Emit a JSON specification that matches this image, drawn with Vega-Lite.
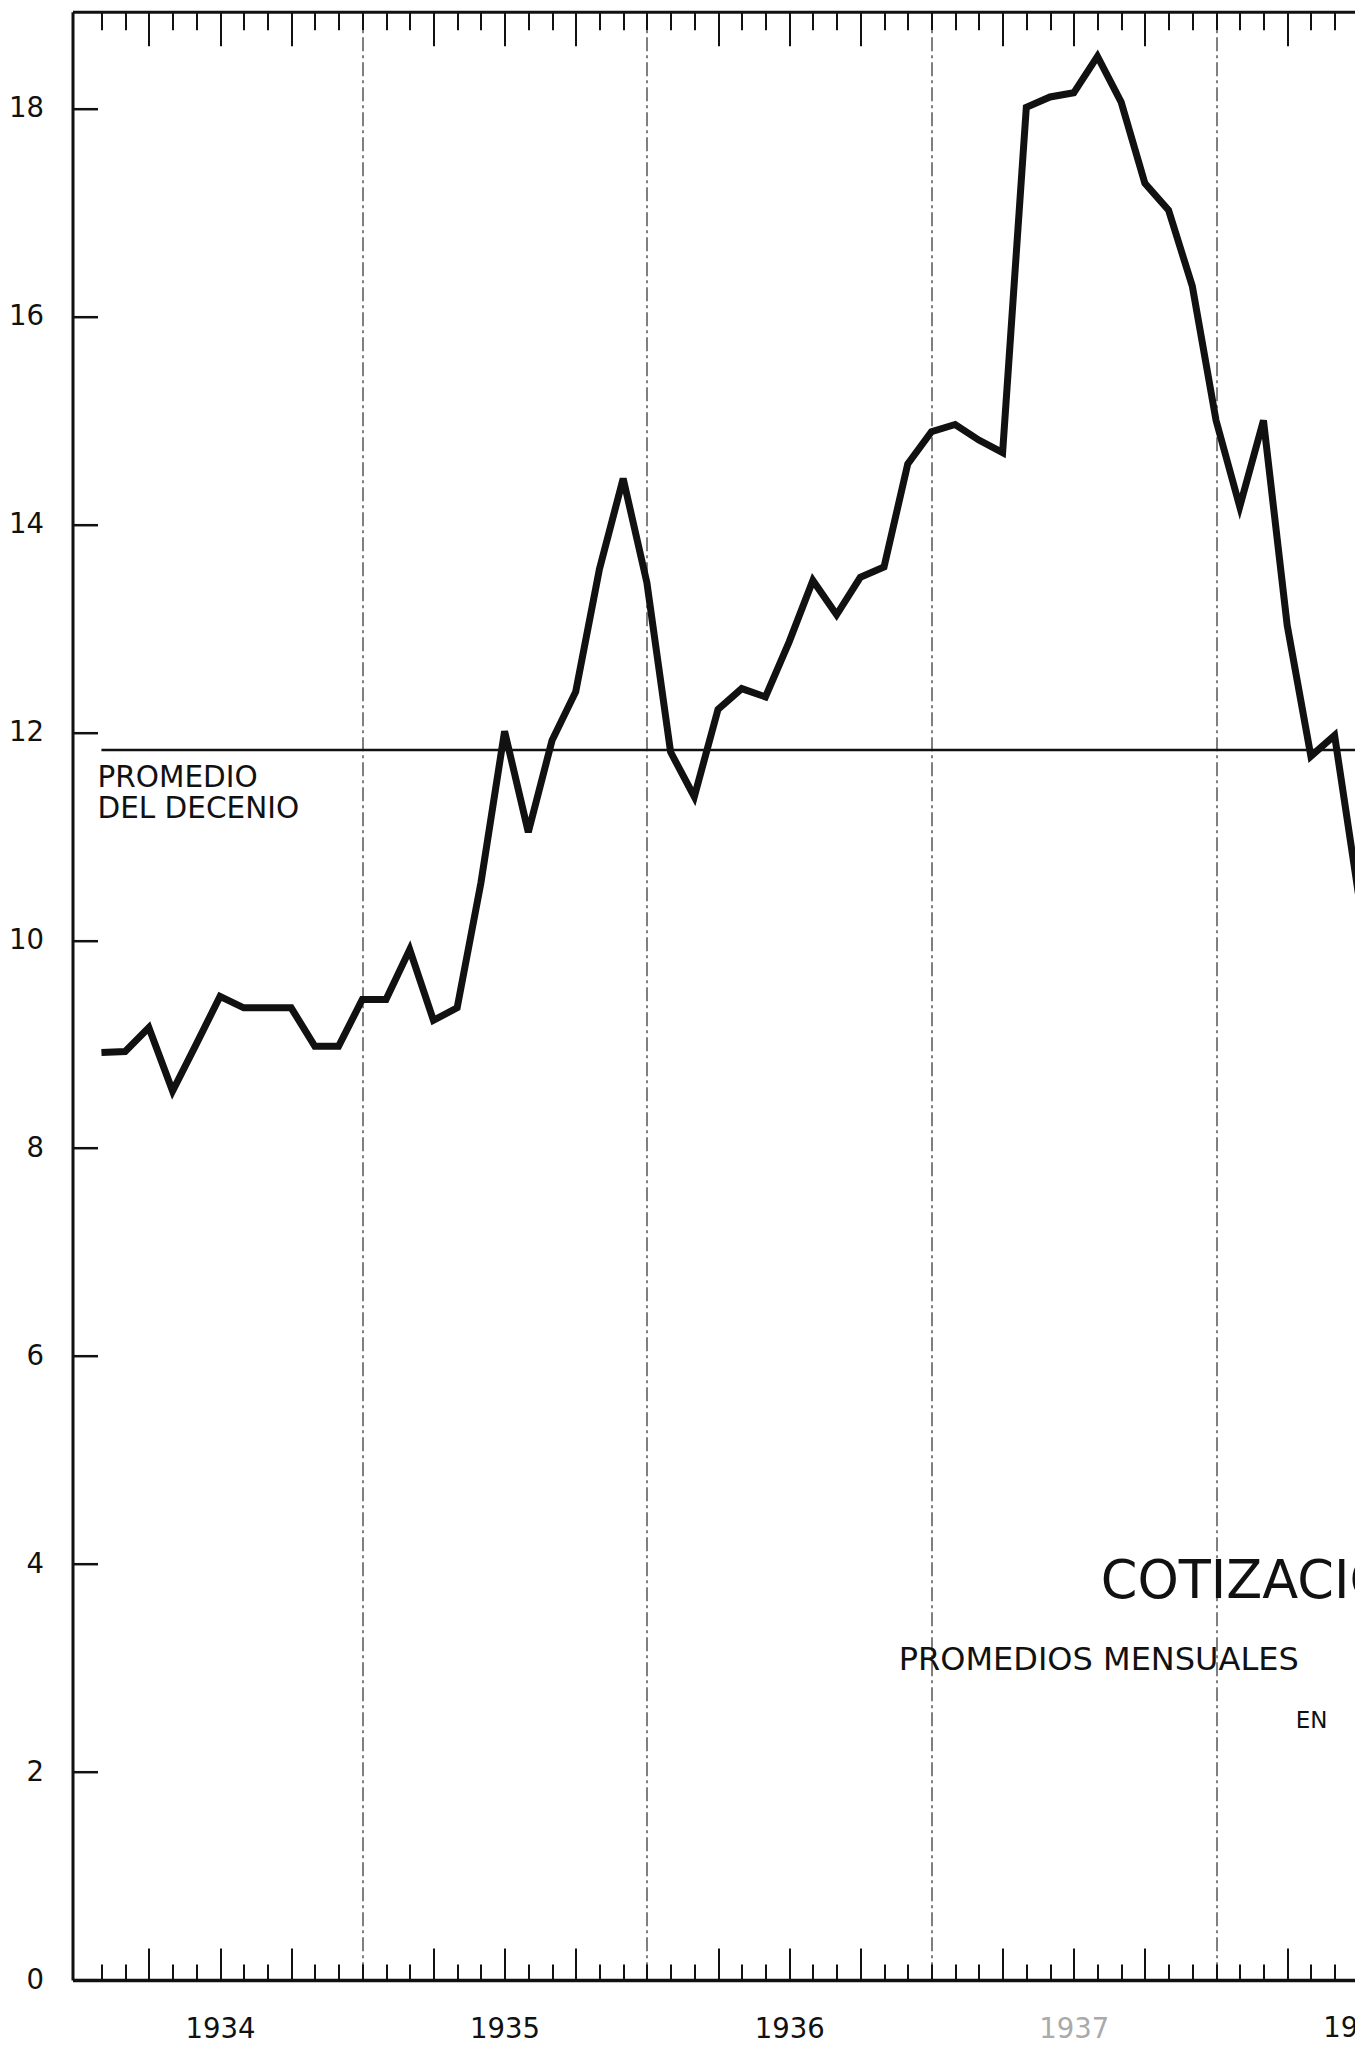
{
  "$schema": "https://vega.github.io/schema/vega-lite/v6.json",
  "width": 1282.5,
  "height": 1968.3,
  "autosize": {"type": "none"},
  "padding": {"left": 72.5, "top": 11.7, "right": 0, "bottom": 65},
  "background": "white",
  "config": {
    "view": {"stroke": null},
    "font": "DejaVu Sans",
    "axis": {"title": null, "grid": false, "labelFlush": false, "labelOverlap": false}
  },
  "datasets": {
    "serie": [
      {"mes": 1, "cotizacion": 8.92}, {"mes": 2, "cotizacion": 8.93}, {"mes": 3, "cotizacion": 9.16},
      {"mes": 4, "cotizacion": 8.55}, {"mes": 5, "cotizacion": 9.0}, {"mes": 6, "cotizacion": 9.46},
      {"mes": 7, "cotizacion": 9.35}, {"mes": 8, "cotizacion": 9.35}, {"mes": 9, "cotizacion": 9.35},
      {"mes": 10, "cotizacion": 8.98}, {"mes": 11, "cotizacion": 8.98}, {"mes": 12, "cotizacion": 9.43},
      {"mes": 13, "cotizacion": 9.43}, {"mes": 14, "cotizacion": 9.91}, {"mes": 15, "cotizacion": 9.23},
      {"mes": 16, "cotizacion": 9.35}, {"mes": 17, "cotizacion": 10.55}, {"mes": 18, "cotizacion": 12.01},
      {"mes": 19, "cotizacion": 11.04}, {"mes": 20, "cotizacion": 11.92}, {"mes": 21, "cotizacion": 12.39},
      {"mes": 22, "cotizacion": 13.57}, {"mes": 23, "cotizacion": 14.44}, {"mes": 24, "cotizacion": 13.44},
      {"mes": 25, "cotizacion": 11.81}, {"mes": 26, "cotizacion": 11.38}, {"mes": 27, "cotizacion": 12.22},
      {"mes": 28, "cotizacion": 12.42}, {"mes": 29, "cotizacion": 12.34}, {"mes": 30, "cotizacion": 12.87},
      {"mes": 31, "cotizacion": 13.46}, {"mes": 32, "cotizacion": 13.13}, {"mes": 33, "cotizacion": 13.49},
      {"mes": 34, "cotizacion": 13.59}, {"mes": 35, "cotizacion": 14.58}, {"mes": 36, "cotizacion": 14.89},
      {"mes": 37, "cotizacion": 14.96}, {"mes": 38, "cotizacion": 14.81}, {"mes": 39, "cotizacion": 14.69},
      {"mes": 40, "cotizacion": 18.01}, {"mes": 41, "cotizacion": 18.11}, {"mes": 42, "cotizacion": 18.15},
      {"mes": 43, "cotizacion": 18.5}, {"mes": 44, "cotizacion": 18.06}, {"mes": 45, "cotizacion": 17.28},
      {"mes": 46, "cotizacion": 17.02}, {"mes": 47, "cotizacion": 16.29}, {"mes": 48, "cotizacion": 15.0},
      {"mes": 49, "cotizacion": 14.17}, {"mes": 50, "cotizacion": 15.0}, {"mes": 51, "cotizacion": 13.03},
      {"mes": 52, "cotizacion": 11.77}, {"mes": 53, "cotizacion": 11.97}, {"mes": 54, "cotizacion": 10.45}
    ],
    "promedio": [
      {"nombre": "PROMEDIO DEL DECENIO", "valor": 11.83, "desde": 1, "hasta": 120}
    ]
  },
  "resolve": {"axis": {"x": "independent", "y": "independent"}},
  "layer": [
    {
      "data": {"name": "serie"},
      "mark": {"type": "line", "color": "#111111", "strokeWidth": 7, "clip": true, "strokeJoin": "miter"},
      "encoding": {
        "x": {
          "field": "mes", "type": "quantitative",
          "scale": {"domain": [-0.22, 53.86], "nice": false, "zero": false},
          "axis": {
            "orient": "bottom",
            "values": [1,2,3,4,5,6,7,8,9,10,11,12,13,14,15,16,17,18,19,20,21,22,23,24,25,26,27,28,29,30,31,32,33,34,35,36,37,38,39,40,41,42,43,44,45,46,47,48,49,50,51,52,53],
            "tickSize": {"condition": {"test": "datum.value % 3 === 0 && datum.value % 12 !== 0", "value": -32}, "value": -16},
            "tickWidth": 2, "tickColor": "#111111",
            "labels": false,
            "domain": true, "domainColor": "#111111", "domainWidth": 3.5,
            "grid": true, "gridColor": "#555555", "gridWidth": 1.5, "gridDash": [14, 4, 3, 4],
            "gridOpacity": {"condition": {"test": "datum.value % 12 === 0", "value": 1}, "value": 0}
          }
        },
        "y": {
          "field": "cotizacion", "type": "quantitative",
          "scale": {"domain": [0, 18.93], "nice": false, "zero": true},
          "axis": {
            "orient": "left",
            "values": [0, 2, 4, 6, 8, 10, 12, 14, 16, 18],
            "tickSize": -25, "tickWidth": 2.5, "tickColor": "#111111",
            "labels": false,
            "domain": true, "domainColor": "#111111", "domainWidth": 3
          }
        }
      }
    },
    {
      "data": {"name": "promedio"},
      "mark": {"type": "rule", "color": "#111111", "strokeWidth": 2.5, "clip": true},
      "encoding": {
        "x": {
          "field": "desde", "type": "quantitative",
          "scale": {"domain": [-0.22, 53.86], "nice": false, "zero": false},
          "axis": {
            "orient": "top",
            "values": [1,2,3,4,5,6,7,8,9,10,11,12,13,14,15,16,17,18,19,20,21,22,23,24,25,26,27,28,29,30,31,32,33,34,35,36,37,38,39,40,41,42,43,44,45,46,47,48,49,50,51,52,53],
            "tickSize": {"condition": {"test": "datum.value % 3 === 0 && datum.value % 12 !== 0", "value": -34}, "value": -18},
            "tickWidth": 2, "tickColor": "#111111",
            "labels": false,
            "domain": true, "domainColor": "#111111", "domainWidth": 3
          }
        },
        "x2": {"field": "hasta"},
        "y": {
          "field": "valor", "type": "quantitative",
          "scale": {"domain": [0, 18.93], "nice": false, "zero": true},
          "axis": {
            "orient": "left",
            "values": [0, 2, 4, 6, 8, 10, 12, 14, 16, 18],
            "ticks": false, "domain": false,
            "labelFont": "DejaVu Sans", "labelFontSize": 27.5, "labelPadding": 29, "labelColor": "#111111"
          }
        }
      }
    },
    {
      "data": {"name": "promedio"},
      "mark": {"type": "text", "align": "left", "baseline": "alphabetic", "font": "DejaVu Sans", "fontSize": 29.5, "lineHeight": 31, "dx": -4, "dy": 37, "color": "#111111"},
      "encoding": {
        "x": {
          "field": "desde", "type": "quantitative",
          "scale": {"domain": [-0.22, 53.86], "nice": false, "zero": false},
          "axis": {
            "orient": "bottom",
            "values": [6, 18, 30, 42],
            "ticks": false, "domain": false,
            "labelExpr": "'' + (1934 + floor(datum.value / 12))",
            "labelFont": "DejaVu Sans", "labelFontSize": 27.5, "labelPadding": 35,
            "labelColor": {"condition": {"test": "datum.value === 42", "value": "#aaaaaa"}, "value": "#111111"}
          }
        },
        "y": {"field": "valor", "type": "quantitative", "scale": {"domain": [0, 18.93], "nice": false}, "axis": null},
        "text": {"value": ["PROMEDIO", "DEL DECENIO"]}
      }
    },
    {
      "data": {"values": [{"anio": "1938"}]},
      "mark": {"type": "text", "align": "center", "baseline": "top", "font": "DejaVu Sans", "fontSize": 27.5, "dy": 35, "color": "#111111"},
      "encoding": {
        "x": {"datum": 54, "type": "quantitative", "axis": null},
        "y": {"datum": 0, "type": "quantitative", "axis": null},
        "text": {"field": "anio"}
      }
    },
    {
      "data": {"values": [{"texto": "COTIZACIÓN"}]},
      "mark": {"type": "text", "align": "left", "baseline": "alphabetic", "font": "DejaVu Sans", "fontSize": 52.5, "color": "#111111"},
      "encoding": {
        "x": {"datum": 43.14, "type": "quantitative", "axis": null},
        "y": {"datum": 3.671, "type": "quantitative", "axis": null},
        "text": {"field": "texto"}
      }
    },
    {
      "data": {"values": [{"texto": "PROMEDIOS MENSUALES"}]},
      "mark": {"type": "text", "align": "left", "baseline": "alphabetic", "font": "DejaVu Sans", "fontSize": 32, "color": "#111111"},
      "encoding": {
        "x": {"datum": 34.62, "type": "quantitative", "axis": null},
        "y": {"datum": 2.982, "type": "quantitative", "axis": null},
        "text": {"field": "texto"}
      }
    },
    {
      "data": {"values": [{"texto": "EN"}]},
      "mark": {"type": "text", "align": "left", "baseline": "alphabetic", "font": "DejaVu Sans", "fontSize": 23, "color": "#111111"},
      "encoding": {
        "x": {"datum": 51.36, "type": "quantitative", "axis": null},
        "y": {"datum": 2.421, "type": "quantitative", "axis": null},
        "text": {"field": "texto"}
      }
    }
  ]
}
